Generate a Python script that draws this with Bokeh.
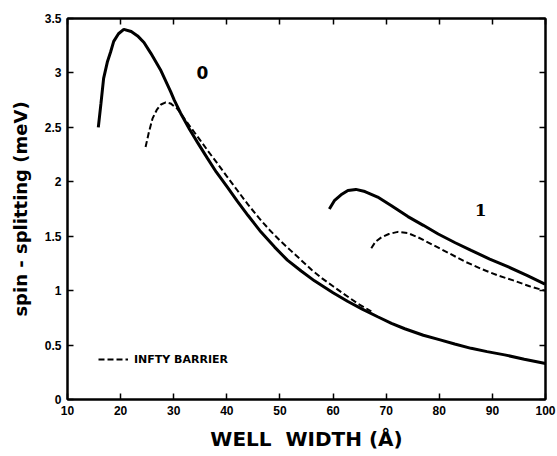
from bokeh.plotting import figure
from bokeh.models import LinearAxis, Range1d, Legend, LegendItem, FixedTicker
from bokeh.core.properties import value
from bokeh.embed import file_html
from bokeh.resources import INLINE

# ---- data ----
solid0_x = [15.8, 16.3, 16.8, 17.5, 18.1, 18.7, 19.6, 20.6, 22.0, 23.2, 24.4, 25.7, 27.5, 29.4,
            30.1, 31.3, 33.0, 34.5, 36.3, 38.0, 40.1, 42.0, 44.0, 46.4, 49.0, 51.4, 54.0, 56.5,
            60.0, 62.8, 65.5, 68.4, 71.0, 73.5, 77.0, 80.0, 82.9, 86.0, 89.0, 92.3, 96.0, 100.0]
solid0_y = [2.50, 2.72, 2.95, 3.10, 3.19, 3.29, 3.36, 3.40, 3.38, 3.34, 3.28, 3.18, 3.03, 2.83,
            2.75, 2.63, 2.48, 2.36, 2.22, 2.09, 1.95, 1.82, 1.69, 1.54, 1.40, 1.28, 1.18, 1.09,
            0.98, 0.90, 0.83, 0.76, 0.70, 0.65, 0.59, 0.55, 0.51, 0.47, 0.44, 0.41, 0.37, 0.33]

dashed0_x = [24.7, 25.3, 26.0, 26.8, 27.6, 28.5, 29.4, 30.7, 32.0, 33.2, 35.0, 36.5, 38.2,
             40.0, 42.0, 44.0, 46.0, 48.0, 50.0, 52.0, 54.0, 56.0, 58.0, 60.0, 62.0, 64.7, 67.2]
dashed0_y = [2.32, 2.45, 2.58, 2.66, 2.71, 2.73, 2.72, 2.67, 2.58, 2.50, 2.38, 2.28, 2.17,
             2.05, 1.92, 1.79, 1.67, 1.56, 1.46, 1.37, 1.28, 1.19, 1.11, 1.04, 0.97, 0.88, 0.81]

solid1_x = [59.3, 60.3, 61.5, 62.8, 64.3, 66.0, 68.4, 71.0, 74.1, 77.0, 79.8, 83.0, 86.0,
            89.5, 92.9, 96.5, 99.9]
solid1_y = [1.75, 1.83, 1.88, 1.92, 1.93, 1.91, 1.86, 1.78, 1.68, 1.60, 1.52, 1.44, 1.37,
            1.29, 1.22, 1.14, 1.06]

dashed1_x = [67.2, 68.0, 69.1, 70.5, 72.2, 74.0, 76.0, 78.8, 81.6, 84.7, 87.9, 91.0, 94.2,
             97.0, 99.9]
dashed1_y = [1.39, 1.45, 1.49, 1.52, 1.54, 1.53, 1.49, 1.42, 1.35, 1.27, 1.20, 1.14, 1.09,
             1.04, 1.00]

curve_labels = ["0", "1"]
curve_label_x = [35.4, 87.8]
curve_label_y = [3.00, 1.74]
curve_label_fonts = ["DejaVu Sans", "DejaVu Serif"]

x_ticks = [10, 20, 30, 40, 50, 60, 70, 80, 90, 100]
y_ticks = [0, 0.5, 1, 1.5, 2, 2.5, 3, 3.5]
legend_label = "INFTY BARRIER"
x_title = "WELL\u00a0\u00a0WIDTH (Å)"
y_title = "spin - splitting (meV)"

# ---- figure ----
p = figure(width=557, height=456, output_backend="svg", toolbar_location=None,
           x_range=Range1d(10, 100), y_range=Range1d(0, 3.5),
           min_border_left=67, min_border_right=12, min_border_top=18, min_border_bottom=57)
p.grid.visible = False
p.background_fill_color = "white"
p.border_fill_color = "white"
p.outline_line_color = "black"
p.outline_line_width = 2

tick_font = "Liberation Sans"
for ax in p.xaxis:
    ax.ticker = FixedTicker(ticks=x_ticks)
    ax.axis_label = x_title
    ax.axis_label_text_font = "DejaVu Sans"
    ax.axis_label_text_font_style = "bold"
    ax.axis_label_text_font_size = "20px"
    ax.axis_label_standoff = 9
for ax in p.yaxis:
    ax.ticker = FixedTicker(ticks=y_ticks)
    ax.axis_label = y_title
    ax.axis_label_text_font = "DejaVu Sans"
    ax.axis_label_text_font_style = "bold"
    ax.axis_label_text_font_size = "18px"
    ax.axis_label_standoff = 11
for ax in list(p.xaxis) + list(p.yaxis):
    ax.major_tick_in = 6
    ax.major_tick_out = 0
    ax.minor_tick_in = 0
    ax.minor_tick_out = 0
    ax.axis_line_width = 2
    ax.major_tick_line_width = 1.5
    ax.major_label_text_font = tick_font
    ax.major_label_text_font_style = "bold"
    ax.major_label_text_font_size = "12px"
    ax.major_label_text_color = "black"
    ax.major_label_standoff = 6
    ax.axis_label_text_color = "black"

top = LinearAxis(ticker=FixedTicker(ticks=x_ticks), major_tick_in=6, major_tick_out=0,
                 minor_tick_in=0, minor_tick_out=0,
                 major_label_overrides={t: "" for t in x_ticks},
                 axis_line_width=2, major_tick_line_width=1.5, major_label_standoff=0)
right = LinearAxis(ticker=FixedTicker(ticks=y_ticks), major_tick_in=6, major_tick_out=0,
                   minor_tick_in=0, minor_tick_out=0,
                   major_label_overrides={t: "" for t in y_ticks},
                   axis_line_width=2, major_tick_line_width=1.5, major_label_standoff=0)
p.add_layout(top, "above")
p.add_layout(right, "right")

p.line(solid0_x, solid0_y, line_color="black", line_width=3)
d0 = p.line(dashed0_x, dashed0_y, line_color="black", line_width=2, line_dash="6 3")
p.line(solid1_x, solid1_y, line_color="black", line_width=3)
p.line(dashed1_x, dashed1_y, line_color="black", line_width=2, line_dash="6 3")

for t, xx, yy, f in zip(curve_labels, curve_label_x, curve_label_y, curve_label_fonts):
    p.text(x=[xx], y=[yy], text=[t], text_font=value(f), text_font_style="bold",
           text_font_size="17px", text_align="center", text_baseline="middle", text_color="black")

legend = Legend(items=[LegendItem(label=legend_label, renderers=[d0])],
                location=(31, 30), padding=0, margin=0, spacing=0,
                glyph_width=30, glyph_height=20, label_standoff=6,
                border_line_alpha=0, background_fill_alpha=0,
                label_text_font="DejaVu Sans", label_text_font_style="bold",
                label_text_font_size="11px", label_text_color="black")
p.add_layout(legend, "center")

open("out.html", "w").write(file_html(p, INLINE))
